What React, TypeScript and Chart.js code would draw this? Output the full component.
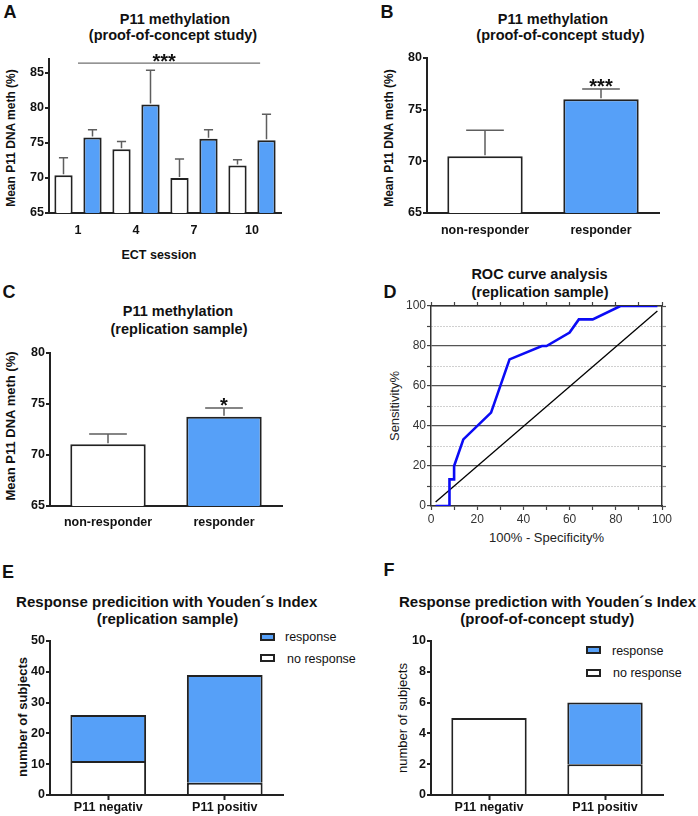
import React, { useEffect, useRef } from 'react';
import { Chart, registerables } from 'chart.js';

Chart.register(...registerables);

// ---------------- data ----------------
// Panel A: P11 methylation over ECT sessions (proof-of-concept)
const sessionLabels = ['1', '4', '7', '10'];
const nonResponderA = [70.4, 74.1, 70.0, 71.8];
const nonResponderAUpper = [72.9, 75.2, 72.7, 72.6];
const responderA = [75.8, 80.5, 75.6, 75.4];
const responderAUpper = [76.9, 85.4, 76.9, 79.1];
const yTicksA = [65, 70, 75, 80, 85];
const sigLevelA = 86.4;
const sigSpanA = [0, 3.14];
const sigTextA = '***';

// Panel B: proof-of-concept, responder vs non-responder
const groupLabels = ['non-responder', 'responder'];
const meanB = [70.5, 76.0];
const upperB = [73.0, 77.0];
const yTicksB = [65, 70, 75, 80];
const starB = '***';

// Panel C: replication sample
const meanC = [71.05, 73.75];
const upperC = [72.05, 74.6];
const yTicksC = [65, 70, 75, 80];
const starC = '*';

// Panel D: ROC curve
const rocFpr = [2, 8, 8, 10, 10, 14, 26, 34, 48, 50, 60, 64, 70, 82, 98];
const rocSens = [0, 0, 13.3, 13.3, 20, 33.3, 46.7, 73.3, 80, 80, 86.7, 93.3, 93.3, 100, 100];
const refFpr = [2, 98];
const refSens = [2, 97.5];
const ticksD = [0, 10, 20, 30, 40, 50, 60, 70, 80, 90, 100];

// Panel E / F: response prediction
const predLabels = ['P11 negativ', 'P11 positiv'];
const seriesNames = ['response', 'no response'];
const noResponseE = [11, 4];
const responseE = [15, 35];
const yTicksE = [0, 10, 20, 30, 40, 50];
const noResponseF = [5, 2];
const responseF = [0, 4];
const yTicksF = [0, 2, 4, 6, 8, 10];

// Texts
const titleA = ['P11 methylation', '(proof-of-concept study)'];
const titleB = ['P11 methylation', '(proof-of-concept study)'];
const titleC = ['P11 methylation', '(replication sample)'];
const titleD = ['ROC curve analysis', '(replication sample)'];
const titleE = ['Response predicition with Youden\u00b4s Index', '(replication sample)'];
const titleF = ['Response prediction with Youden\u00b4s Index', '(proof-of-concept study)'];
const yTitleMeth = 'Mean P11 DNA meth (%)';
const xTitleA = 'ECT session';
const yTitleD = 'Sensitivity%';
const xTitleD = '100% - Specificity%';
const yTitleCount = 'number of subjects';

// ---------------- styling ----------------
const FONT = '"Liberation Sans", Arial, Helvetica, sans-serif';
const BLUE = '#56a0f8';
const EDGE = '#222222';
const ERR = '#5e5e5e';
const YW = 40;
const XH = 30;
const PT = 12;
const PR = 12;

const boldTick = { family: FONT, size: 12.5, weight: 'bold' as const };

function valueAxis(min: number, max: number, ticks: number[], stacked = false) {
  return {
    type: 'linear',
    min,
    max,
    stacked,
    afterBuildTicks: (s: any) => {
      s.ticks = ticks.map((v) => ({ value: v }));
    },
    afterFit: (s: any) => {
      s.width = YW;
    },
    grid: {
      drawOnChartArea: false,
      drawTicks: true,
      tickLength: 4,
      tickWidth: 2,
      tickColor: EDGE,
      lineWidth: 2,
      color: EDGE,
    },
    border: { display: true, color: EDGE, width: 2 },
    ticks: { color: '#111', padding: 1, font: boldTick },
  };
}

function catAxis(padding: number, tickLen = 0, stacked = false) {
  return {
    type: 'category',
    offset: true,
    stacked,
    afterFit: (s: any) => {
      s.height = XH;
    },
    grid: {
      offset: false,
      drawOnChartArea: false,
      drawTicks: tickLen > 0,
      tickLength: tickLen,
      tickWidth: 2,
      tickColor: EDGE,
      color: EDGE,
    },
    border: { display: true, color: EDGE, width: 2 },
    ticks: { color: '#111', padding, font: boldTick, autoSkip: false, maxRotation: 0 },
  };
}

function barDs(label: string, data: number[], color: string) {
  return {
    label,
    data,
    backgroundColor: color,
    borderColor: EDGE,
    borderWidth: (c: any) => (c.raw === 0 ? 0 : 2),
    borderSkipped: 'start',
  };
}

function errorBars(uppers: (number[] | null)[]) {
  return {
    id: 'errorBars',
    afterDatasetsDraw(chart: any) {
      const ctx = chart.ctx;
      const y = chart.scales.y;
      uppers.forEach((arr, di) => {
        if (!arr) return;
        const meta = chart.getDatasetMeta(di);
        meta.data.forEach((el: any, i: number) => {
          const p = el.getProps(['x', 'y', 'width'], true);
          const top = y.getPixelForValue(arr[i]);
          const half = p.width / 4;
          ctx.save();
          ctx.strokeStyle = ERR;
          ctx.lineWidth = 1.5;
          ctx.beginPath();
          ctx.moveTo(p.x, p.y - 1);
          ctx.lineTo(p.x, top);
          ctx.moveTo(p.x - half, top);
          ctx.lineTo(p.x + half, top);
          ctx.stroke();
          ctx.restore();
        });
      });
    },
  };
}

function starsOver(di: number, idx: number, upper: number, text: string) {
  return {
    id: 'stars',
    afterDatasetsDraw(chart: any) {
      const ctx = chart.ctx;
      const el: any = chart.getDatasetMeta(di).data[idx];
      const top = chart.scales.y.getPixelForValue(upper);
      ctx.save();
      ctx.fillStyle = '#111';
      ctx.font = `bold 20px ${FONT}`;
      ctx.textAlign = 'center';
      ctx.textBaseline = 'alphabetic';
      ctx.fillText(text, el.x, top + 4);
      ctx.restore();
    },
  };
}

function sigBar(level: number, span: number[], text: string) {
  return {
    id: 'sigBar',
    afterDatasetsDraw(chart: any) {
      const { ctx } = chart;
      const x = chart.scales.x;
      const y = chart.scales.y;
      const p0 = x.getPixelForValue(0);
      const p1 = x.getPixelForValue(1);
      const xa = p0 + span[0] * (p1 - p0);
      const xb = p0 + span[1] * (p1 - p0);
      const yy = y.getPixelForValue(level);
      ctx.save();
      ctx.strokeStyle = '#707070';
      ctx.lineWidth = 1.3;
      ctx.beginPath();
      ctx.moveTo(xa, yy);
      ctx.lineTo(xb, yy);
      ctx.stroke();
      ctx.fillStyle = '#111';
      ctx.font = `bold 20px ${FONT}`;
      ctx.textAlign = 'center';
      ctx.textBaseline = 'alphabetic';
      ctx.fillText(text, (xa + xb) / 2 - 5, yy + 5);
      ctx.restore();
    },
  };
}

const baseOptions = (pt: number, pr: number) => ({
  responsive: false,
  maintainAspectRatio: false,
  animation: false,
  events: [],
  layout: { padding: { left: 0, top: pt, right: pr, bottom: 0 } },
  plugins: { legend: { display: false }, tooltip: { enabled: false }, title: { display: false } },
});

// ---------------- chart configs ----------------
const makeA = () => ({
  type: 'bar',
  data: {
    labels: sessionLabels,
    datasets: [barDs('non-responder', nonResponderA, '#ffffff'), barDs('responder', responderA, BLUE)],
  },
  options: {
    ...baseOptions(PT, PR),
    datasets: { bar: { barPercentage: 0.63, categoryPercentage: 1 } },
    scales: { x: catAxis(10), y: valueAxis(65, 87, yTicksA) },
  },
  plugins: [errorBars([nonResponderAUpper, responderAUpper]), sigBar(sigLevelA, sigSpanA, sigTextA)],
});

const makeTwoBars = (means: number[], uppers: number[], ticks: number[], star: string, pad: number) => () => ({
  type: 'bar',
  data: {
    labels: groupLabels,
    datasets: [
      {
        ...barDs('mean', means, '#ffffff'),
        backgroundColor: ['#ffffff', BLUE],
      },
    ],
  },
  options: {
    ...baseOptions(PT, PR),
    datasets: { bar: { barPercentage: 0.65, categoryPercentage: 1 } },
    scales: { x: catAxis(pad), y: valueAxis(65, 80, ticks) },
  },
  plugins: [errorBars([uppers]), starsOver(0, 1, uppers[1], star)],
});

const makeD = () => {
  const major = (c: any) => c.tick && Math.round(c.tick.value) % 20 === 0;
  const tickAxis = (pos: string, extra: any) => ({
    type: 'linear',
    position: pos,
    min: 0,
    max: 100,
    afterBuildTicks: (s: any) => {
      s.ticks = ticksD.map((v) => ({ value: v }));
    },
    ...extra,
  });
  const lbl = (v: any) => (Math.round(v) % 20 === 0 ? String(v) : '');
  const tickFont = { family: FONT, size: 12 };
  return {
    type: 'scatter',
    data: {
      datasets: [
        {
          label: 'ROC',
          data: rocFpr.map((x, i) => ({ x, y: rocSens[i] })),
          showLine: true,
          borderColor: '#0b0bf5',
          borderWidth: 2.6,
          pointRadius: 0,
          tension: 0,
          fill: false,
        },
        {
          label: 'reference',
          data: refFpr.map((x, i) => ({ x, y: refSens[i] })),
          showLine: true,
          borderColor: '#000000',
          borderWidth: 1.3,
          pointRadius: 0,
          tension: 0,
          fill: false,
        },
      ],
    },
    options: {
      ...baseOptions(12, 12),
      scales: {
        x: tickAxis('bottom', {
          afterFit: (s: any) => {
            s.height = XH;
          },
          grid: { drawOnChartArea: false, tickLength: 4, tickColor: '#444', tickWidth: 1.2 },
          border: { display: true, color: '#333', width: 1.5 },
          ticks: { callback: lbl, color: '#333', padding: 2, font: tickFont, autoSkip: false, maxRotation: 0 },
        }),
        xTop: tickAxis('top', {
          afterFit: (s: any) => {
            s.height = 5;
          },
          grid: { drawOnChartArea: false, tickLength: 4, tickColor: '#444', tickWidth: 1.2 },
          border: { display: true, color: '#333', width: 1.5 },
          ticks: { display: false },
        }),
        y: tickAxis('left', {
          afterFit: (s: any) => {
            s.width = YW;
          },
          grid: {
            drawOnChartArea: true,
            color: (c: any) => (major(c) ? '#555555' : '#a0a0a0'),
            lineWidth: (c: any) => (major(c) ? 1.2 : 1),
            tickLength: 4,
            tickColor: '#444',
            tickWidth: 1.2,
          },
          border: {
            display: true,
            color: '#333',
            width: 1.5,
            dash: (c: any) => (c.tick && Math.round(c.tick.value) % 20 !== 0 ? [1, 2] : []),
          },
          ticks: { callback: lbl, color: '#333', padding: 1, font: tickFont, autoSkip: false },
        }),
        yRight: tickAxis('right', {
          afterFit: (s: any) => {
            s.width = 5;
          },
          grid: {
            drawOnChartArea: false,
            tickLength: 4,
            tickColor: (c: any) => (major(c) ? '#555555' : '#a0a0a0'),
            tickWidth: 1.2,
          },
          border: { display: true, color: '#333', width: 1.5 },
          ticks: { display: false },
        }),
      },
    },
  };
};

const makeStacked = (noResp: number[], resp: number[], max: number, ticks: number[]) => () => ({
  type: 'bar',
  data: {
    labels: predLabels,
    datasets: [barDs(seriesNames[1], noResp, '#ffffff'), barDs(seriesNames[0], resp, BLUE)],
  },
  options: {
    ...baseOptions(PT, PR),
    datasets: { bar: { barPercentage: 0.65, categoryPercentage: 1 } },
    scales: { x: catAxis(0.5, 5, true), y: valueAxis(0, max, ticks, true) },
  },
});

// ---------------- components ----------------
type Area = { L: number; T: number; R: number; B: number };

function ChartBox({ area, make, pt = PT, pr = PR }: { area: Area; make: () => any; pt?: number; pr?: number }) {
  const ref = useRef<HTMLCanvasElement | null>(null);
  const left = area.L - YW;
  const top = area.T - pt;
  const width = area.R + pr - left;
  const height = area.B + XH - top;
  useEffect(() => {
    const chart = new Chart(ref.current as HTMLCanvasElement, make());
    return () => chart.destroy();
  }, []);
  return (
    <canvas
      ref={ref}
      width={width}
      height={height}
      style={{ position: 'absolute', left, top, width, height, display: 'block' }}
    />
  );
}

function Txt({
  x,
  y,
  size,
  bold = false,
  rotate = false,
  left = false,
  color = '#111',
  children,
}: {
  x: number;
  y: number;
  size: number;
  bold?: boolean;
  rotate?: boolean;
  left?: boolean;
  color?: string;
  children: React.ReactNode;
}) {
  return (
    <div
      style={{
        position: 'absolute',
        left: x,
        top: y,
        transform: `translate(${left ? '0' : '-50%'}, -50%)${rotate ? ' rotate(-90deg)' : ''}`,
        fontSize: size,
        fontWeight: bold ? 700 : 400,
        lineHeight: 1,
        whiteSpace: 'nowrap',
        color,
      }}
    >
      {children}
    </div>
  );
}

function LegendBox({ x, y, fill }: { x: number; y: number; fill: string }) {
  return (
    <div
      style={{
        position: 'absolute',
        left: x,
        top: y - 4,
        width: 15,
        height: 8,
        boxSizing: 'border-box',
        border: `2px solid ${EDGE}`,
        background: fill,
      }}
    />
  );
}

export default function App() {
  return (
    <div
      style={{
        position: 'absolute',
        left: 0,
        top: 0,
        width: 698,
        height: 816,
        background: '#ffffff',
        fontFamily: FONT,
        overflow: 'hidden',
      }}
    >
      {/* panel letters */}
      <Txt x={10} y={11.5} size={18} bold>A</Txt>
      <Txt x={387} y={11.5} size={18} bold>B</Txt>
      <Txt x={9} y={292} size={18} bold>C</Txt>
      <Txt x={390} y={291.5} size={18} bold>D</Txt>
      <Txt x={8} y={572} size={18} bold>E</Txt>
      <Txt x={389} y={570} size={18} bold>F</Txt>

      {/* titles */}
      <Txt x={175} y={18.7} size={14.5} bold>{titleA[0]}</Txt>
      <Txt x={173} y={35} size={14.5} bold>{titleA[1]}</Txt>
      <Txt x={553} y={18.7} size={14.5} bold>{titleB[0]}</Txt>
      <Txt x={560.5} y={35} size={14.5} bold>{titleB[1]}</Txt>
      <Txt x={178} y={311} size={14.5} bold>{titleC[0]}</Txt>
      <Txt x={179} y={328.5} size={14.5} bold>{titleC[1]}</Txt>
      <Txt x={539.5} y={274} size={14.5} bold>{titleD[0]}</Txt>
      <Txt x={540} y={291.5} size={14.5} bold>{titleD[1]}</Txt>
      <Txt x={166.7} y={601} size={15} bold>{titleE[0]}</Txt>
      <Txt x={167.5} y={617.5} size={15} bold>{titleE[1]}</Txt>
      <Txt x={547.5} y={601} size={15} bold>{titleF[0]}</Txt>
      <Txt x={547.3} y={618} size={15} bold>{titleF[1]}</Txt>

      {/* axis titles */}
      <Txt x={11} y={138} size={12} bold rotate>{yTitleMeth}</Txt>
      <Txt x={159} y={255} size={12.5} bold>{xTitleA}</Txt>
      <Txt x={389} y={138} size={12} bold rotate>{yTitleMeth}</Txt>
      <Txt x={10} y={426} size={13} bold rotate>{yTitleMeth}</Txt>
      <Txt x={394} y={406} size={13} rotate color="#222">{yTitleD}</Txt>
      <Txt x={546.5} y={537} size={13} color="#222">{xTitleD}</Txt>
      <Txt x={22} y={717} size={13} bold rotate>{yTitleCount}</Txt>
      <Txt x={402} y={718} size={13} rotate>{yTitleCount}</Txt>

      {/* legends E */}
      <LegendBox x={260} y={636.5} fill={BLUE} />
      <Txt x={285} y={637} size={12.5} left>{seriesNames[0]}</Txt>
      <LegendBox x={260} y={658} fill="#ffffff" />
      <Txt x={287} y={658.5} size={12.5} left>{seriesNames[1]}</Txt>
      {/* legends F */}
      <LegendBox x={586} y={650} fill={BLUE} />
      <Txt x={612} y={650.5} size={12.5} left>{seriesNames[0]}</Txt>
      <LegendBox x={586} y={672.5} fill="#ffffff" />
      <Txt x={613} y={673} size={12.5} left>{seriesNames[1]}</Txt>

      {/* charts */}
      <ChartBox area={{ L: 49, T: 59, R: 281, B: 213 }} make={makeA} />
      <ChartBox area={{ L: 427, T: 58, R: 659, B: 213 }} make={makeTwoBars(meanB, upperB, yTicksB, starB, 10)} />
      <ChartBox area={{ L: 50, T: 353, R: 282, B: 506 }} make={makeTwoBars(meanC, upperC, yTicksC, starC, 9.5)} />
      <ChartBox area={{ L: 431, T: 306, R: 662, B: 506 }} make={makeD} pt={17} pr={17} />
      <ChartBox area={{ L: 50, T: 641, R: 283, B: 795 }} make={makeStacked(noResponseE, responseE, 50, yTicksE)} />
      <ChartBox area={{ L: 431, T: 641, R: 663, B: 795 }} make={makeStacked(noResponseF, responseF, 10, yTicksF)} />
    </div>
  );
}
